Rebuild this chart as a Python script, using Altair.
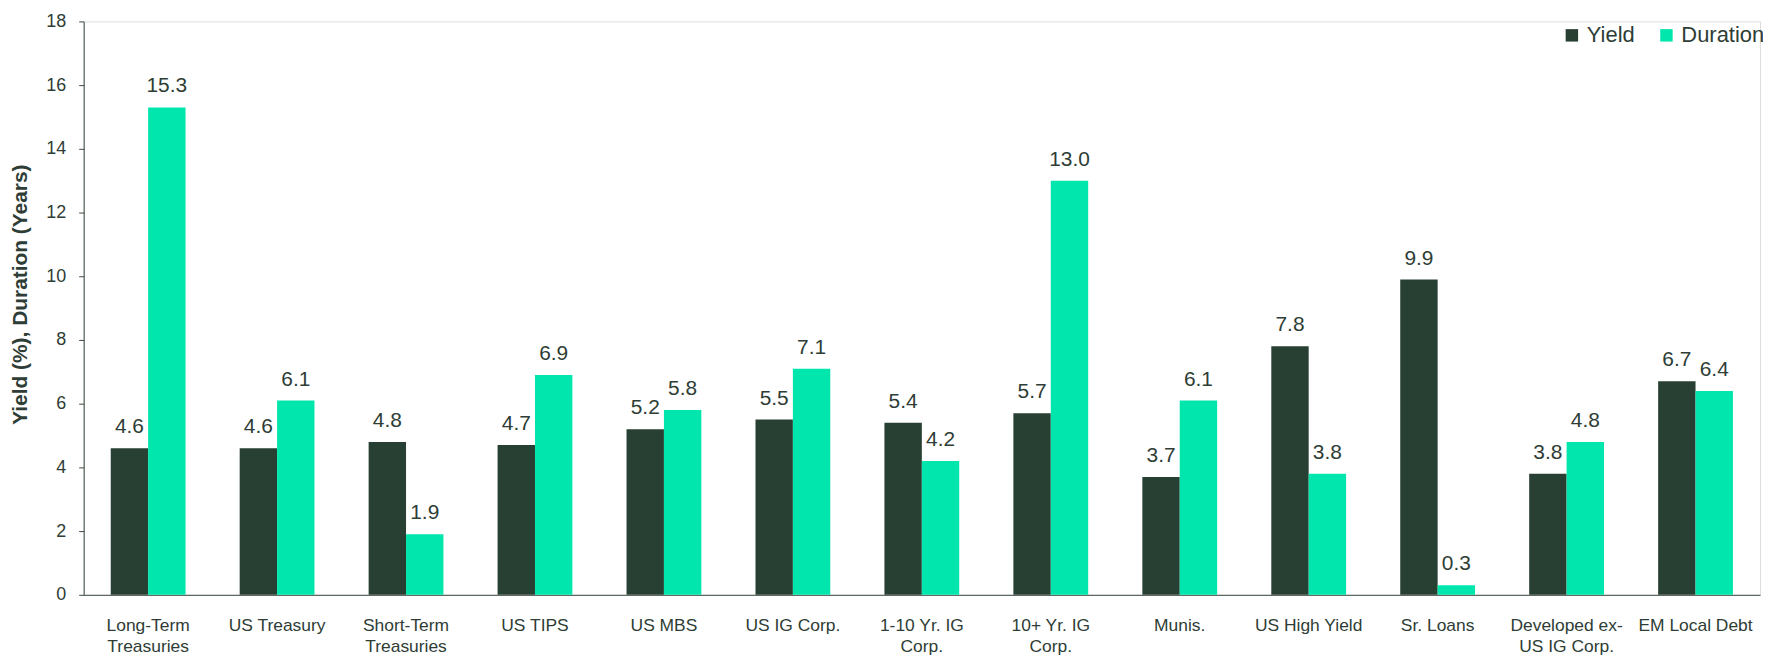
import altair as alt
import pandas as pd

categories = [
    "Long-Term|Treasuries", "US Treasury", "Short-Term|Treasuries", "US TIPS",
    "US MBS", "US IG Corp.", "1-10 Yr. IG|Corp.", "10+ Yr. IG|Corp.",
    "Munis.", "US High Yield", "Sr. Loans", "Developed ex-|US IG Corp.",
    "EM Local Debt",
]
yield_vals = [4.6, 4.6, 4.8, 4.7, 5.2, 5.5, 5.4, 5.7, 3.7, 7.8, 9.9, 3.8, 6.7]
duration_vals = [15.3, 6.1, 1.9, 6.9, 5.8, 7.1, 4.2, 13.0, 6.1, 3.8, 0.3, 4.8, 6.4]
series = ["Yield", "Duration"]
colors = ["#283F33", "#00E6AC"]
y_ticks = [0, 2, 4, 6, 8, 10, 12, 14, 16, 18]

rows = []
for c, yv, dv in zip(categories, yield_vals, duration_vals):
    rows.append({"cat": c, "series": "Yield", "value": yv})
    rows.append({"cat": c, "series": "Duration", "value": dv})
df = pd.DataFrame(rows)

TXT = "#2E3D35"
FONT = "Liberation Sans"

x_enc = alt.X(
    "cat:N",
    sort=categories,
    scale=alt.Scale(paddingInner=0.42, paddingOuter=0.21),
    axis=alt.Axis(
        title=None,
        labelExpr="split(datum.value, '|')",
        labelAngle=0,
        labelFontSize=17.5,
        labelLineHeight=21,
        labelColor=TXT,
        labelFont=FONT,
        labelPadding=22,
        ticks=False,
        tickSize=0,
        domainColor="#3A4A40",
        domainWidth=1,
        labelBaseline="top",
    ),
)
xoff = alt.XOffset("series:N", sort=series)

y_enc = alt.Y(
    "value:Q",
    scale=alt.Scale(domain=[0, 18], nice=False),
    axis=alt.Axis(
        title="Yield (%), Duration (Years)",
        values=y_ticks,
        grid=False,
        labelFontSize=18,
        labelColor=TXT,
        labelFont=FONT,
        labelPadding=13,
        tickSize=5,
        tickColor="#3A4A40",
        domainColor="#3A4A40",
        titleFontSize=21,
        titleFontWeight="bold",
        titleColor=TXT,
        titleFont=FONT,
        titleX=-63,
        titleY=274,
        titleAngle=270,
        titleBaseline="middle",
        titleAlign="center",
    ),
)

bars = alt.Chart(df).mark_bar().encode(
    x=x_enc,
    xOffset=xoff,
    y=y_enc,
    color=alt.Color(
        "series:N",
        sort=series,
        scale=alt.Scale(domain=series, range=colors),
        legend=alt.Legend(
            title=None,
            orient="none",
            legendX=1484,
            legendY=3,
            direction="horizontal",
            symbolType="square",
            symbolSize=156,
            symbolStrokeWidth=0,
            symbolOpacity=1,
            labelFontSize=22,
            labelFont=FONT,
            labelColor=TXT,
            labelOffset=4,
            columnPadding=20,
            padding=0,
        ),
    ),
)

labels = alt.Chart(df).mark_text(
    baseline="alphabetic", dy=-15, fontSize=21, font=FONT, color=TXT
).encode(
    x=alt.X("cat:N", sort=categories),
    xOffset=xoff,
    y=alt.Y("value:Q"),
    text=alt.Text("value:Q", format=".1f"),
)

chart = (
    alt.layer(bars, labels)
    .properties(
        width=1684,
        height=576,
        autosize=alt.AutoSizeParams(type="none"),
        padding={"left": 76, "top": 12, "right": 3, "bottom": 59},
    )
    .configure_view(stroke=None)
    .configure(background="white")
)

chart.save("out.html", embed_options={"renderer": "svg", "actions": False})
